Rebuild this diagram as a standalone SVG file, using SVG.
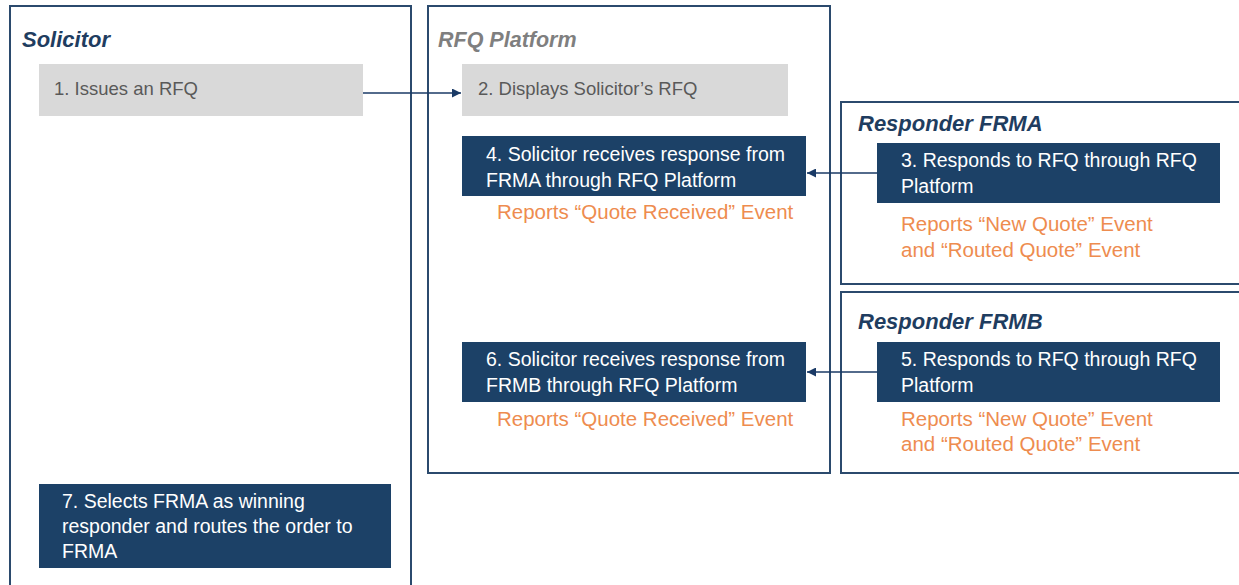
<svg xmlns="http://www.w3.org/2000/svg" width="1239" height="585" viewBox="0 0 1239 585">
<style>
.lane{fill:#fff;stroke:#2b4a6d;stroke-width:2}
.title{font-family:"Liberation Sans",Arial,sans-serif;font-weight:bold;font-style:italic;font-size:22px;fill:#1f3d60}
.titleg{font-family:"Liberation Sans",Arial,sans-serif;font-weight:bold;font-style:italic;font-size:21.5px;fill:#7f7f7f}
.gbox{fill:#d9d9d9}
.nbox{fill:#1c4167}
.gt{font-family:"Liberation Sans",Arial,sans-serif;font-size:18.5px;fill:#595959}
.wt{font-family:"Liberation Sans",Arial,sans-serif;font-size:19.5px;fill:#fff}
.ot{font-family:"Liberation Sans",Arial,sans-serif;font-size:20.5px;fill:#ee8c4f}
.conn{stroke:#1a3a66;stroke-width:1.5;fill:none}
</style>
<defs>
<marker id="ah" viewBox="0 0 10 10" refX="10" refY="5" markerWidth="9" markerHeight="9" markerUnits="userSpaceOnUse" orient="auto">
<path d="M0,0 L10,5 L0,10 z" fill="#1a3a66"/>
</marker>
</defs>
<rect width="1239" height="585" fill="#fff"/>
<g id="lane-solicitor">
<rect class="lane" x="10" y="6" width="401" height="590"/>
<text class="title" x="22" y="47">Solicitor</text>
</g>
<g id="lane-platform">
<rect class="lane" x="428" y="6" width="402" height="467"/>
<text class="titleg" x="438" y="47">RFQ Platform</text>
</g>
<g id="lane-frma">
<rect class="lane" x="841" y="102" width="410" height="182"/>
<text class="title" x="858" y="131">Responder FRMA</text>
</g>
<g id="lane-frmb">
<rect class="lane" x="841" y="292" width="410" height="181"/>
<text class="title" x="858" y="329">Responder FRMB</text>
</g>
<g id="node1">
<rect class="gbox" x="39" y="64" width="324" height="52"/>
<text class="gt" x="54" y="95">1. Issues an RFQ</text>
</g>
<g id="node2">
<rect class="gbox" x="462" y="64" width="326" height="52"/>
<text class="gt" x="478" y="95">2. Displays Solicitor’s RFQ</text>
</g>
<g id="node3">
<rect class="nbox" x="877" y="143" width="343" height="60"/>
<text class="wt" x="901" y="167">3. Responds to RFQ through RFQ</text>
<text class="wt" x="901" y="193">Platform</text>
<text class="ot" x="901" y="231">Reports “New Quote” Event</text>
<text class="ot" x="901" y="257">and “Routed Quote” Event</text>
</g>
<g id="node4">
<rect class="nbox" x="462" y="136" width="344" height="60"/>
<text class="wt" x="486" y="161">4. Solicitor receives response from</text>
<text class="wt" x="486" y="187">FRMA through RFQ Platform</text>
<text class="ot" x="497" y="219">Reports “Quote Received” Event</text>
</g>
<g id="node5">
<rect class="nbox" x="877" y="342" width="343" height="60"/>
<text class="wt" x="901" y="366">5. Responds to RFQ through RFQ</text>
<text class="wt" x="901" y="392">Platform</text>
<text class="ot" x="901" y="426">Reports “New Quote” Event</text>
<text class="ot" x="901" y="451">and “Routed Quote” Event</text>
</g>
<g id="node6">
<rect class="nbox" x="462" y="342" width="344" height="60"/>
<text class="wt" x="486" y="366">6. Solicitor receives response from</text>
<text class="wt" x="486" y="392">FRMB through RFQ Platform</text>
<text class="ot" x="497" y="426">Reports “Quote Received” Event</text>
</g>
<g id="node7">
<rect class="nbox" x="39" y="484" width="352" height="84"/>
<text class="wt" x="62" y="508">7. Selects FRMA as winning</text>
<text class="wt" x="62" y="533">responder and routes the order to</text>
<text class="wt" x="62" y="558">FRMA</text>
</g>
<g id="connectors">
<line class="conn" x1="363" y1="93" x2="461" y2="93" marker-end="url(#ah)"/>
<line class="conn" x1="877" y1="173" x2="807" y2="173" marker-end="url(#ah)"/>
<line class="conn" x1="877" y1="372" x2="807" y2="372" marker-end="url(#ah)"/>
</g>
</svg>
